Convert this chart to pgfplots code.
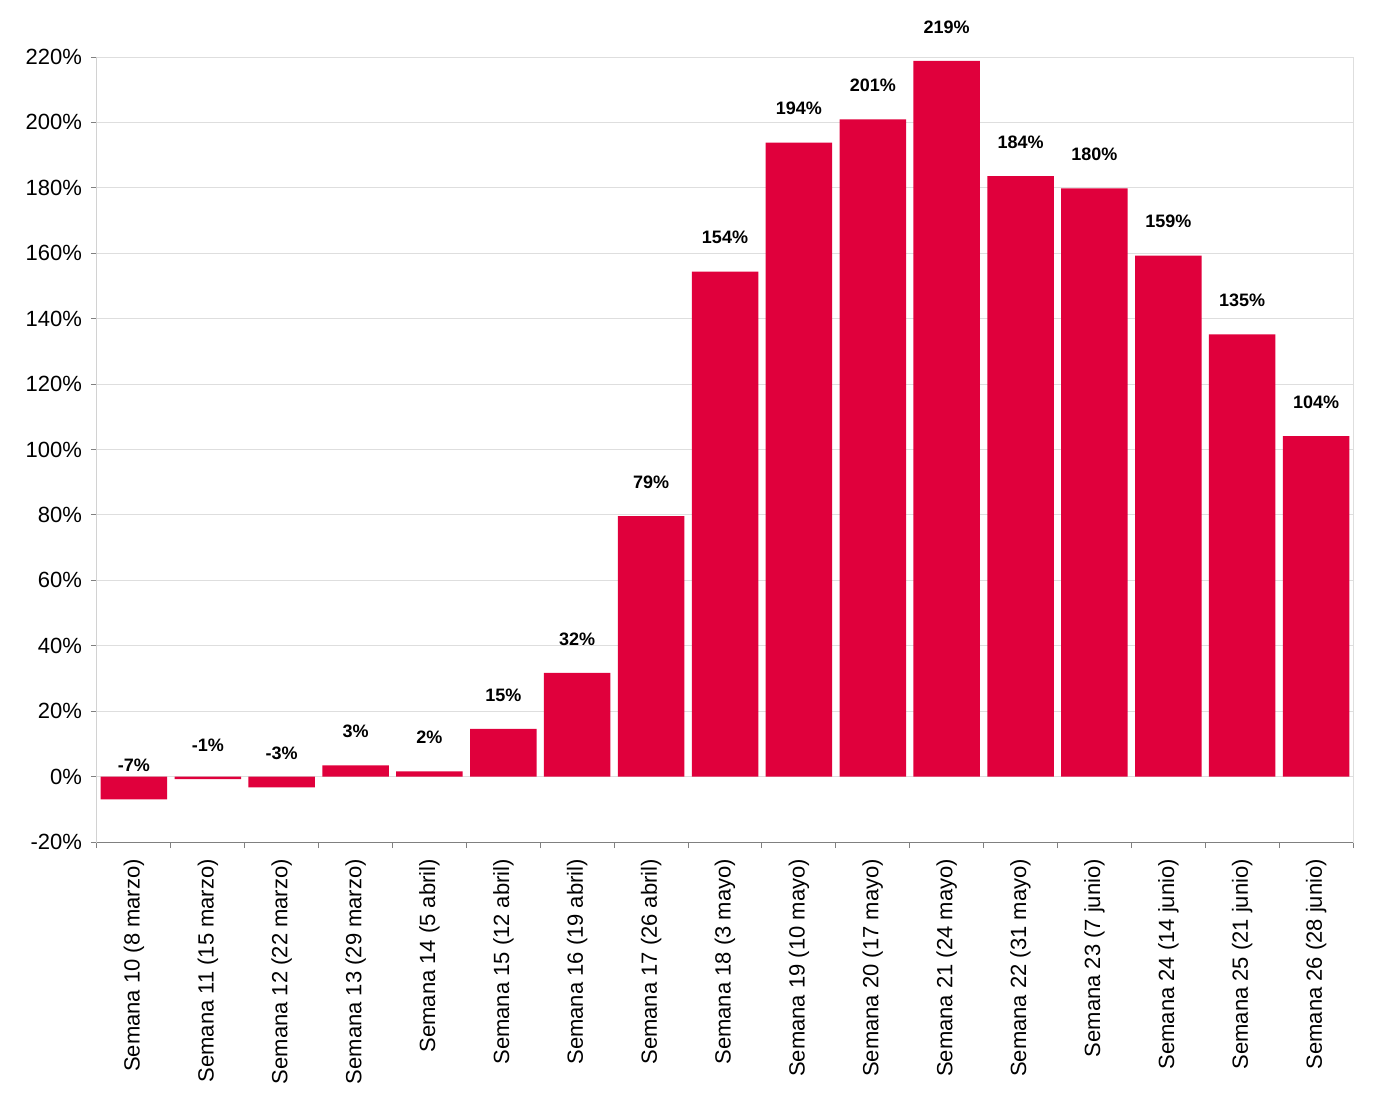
\documentclass[border=0pt]{standalone}
\usepackage{pgfplots}
\pgfplotsset{compat=1.18}
\usepackage{fontspec}
\setmainfont{Liberation Sans}
\usetikzlibrary{calc}
\definecolor{barred}{HTML}{E0003C}

\begin{document}
\begin{tikzpicture}
\begin{axis}[
  width=628pt, height=392.5pt, scale only axis,
  xmin=-0.5, xmax=16.5, ymin=-20, ymax=220,
  ytick={-20,0,...,220},
  yticklabel={\pgfmathprintnumber{\tick}\%},
  /pgf/number format/assume math mode=true,
  ymajorgrids, grid style={draw=black!13, line width=0.5pt},
  axis line style={draw=black!13, line width=0.5pt},
  tick align=outside,
  xtick pos=bottom, ytick pos=left,
  major tick length=3pt, minor tick length=3pt,
  major x tick style={draw=none},
  minor x tick style={draw=gray, line width=0.5pt},
  major y tick style={draw=gray, line width=0.5pt},
  xtick={0,...,16},
  minor xtick={-0.5,0.5,...,16.5},
  xticklabels={Semana 10 (8 marzo),Semana 11 (15 marzo),Semana 12 (22 marzo),Semana 13 (29 marzo),Semana 14 (5 abril),Semana 15 (12 abril),Semana 16 (19 abril),Semana 17 (26 abril),Semana 18 (3 mayo),Semana 19 (10 mayo),Semana 20 (17 mayo),Semana 21 (24 mayo),Semana 22 (31 mayo),Semana 23 (7 junio),Semana 24 (14 junio),Semana 25 (21 junio),Semana 26 (28 junio)},
  x tick label style={rotate=90, anchor=east, font=\fontsize{11pt}{13pt}\selectfont},
  y tick label style={font=\fontsize{11pt}{13pt}\selectfont},
  xticklabel shift=2pt,
  yticklabel shift=1pt,
]
% x, bar height, printed label
\addplot[ybar, bar width=0.9, fill=barred, draw=none,
  point meta=explicit symbolic,
  nodes near coords={\pgfplotspointmeta\%},
  every node near coord/.append style={anchor=center, yshift=17pt, text=black,
    font=\bfseries\fontsize{9pt}{10pt}\selectfont}]
  table[meta=lab] {
  x y lab
  0 -7 -7
  1 -0.8 -1
  2 -3.3 -3
  3 3.4 3
  4 1.6 2
  5 14.6 15
  6 31.7 32
  7 79.6 79
  8 154.4 154
  9 193.8 194
  10 200.9 201
  11 218.8 219
  12 183.6 184
  13 179.8 180
  14 159.3 159
  15 135.2 135
  16 104.1 104
  };
\draw[gray, line width=0.5pt] (rel axis cs:0,1) -- (rel axis cs:0,0) -- (rel axis cs:1,0);
\coordinate (sw) at (rel axis cs:0,0);
\coordinate (ne) at (rel axis cs:1,1);
\end{axis}
\pgfresetboundingbox
\path[use as bounding box] ($(sw)+(-48.5pt,-125.5pt)$) rectangle ($(ne)+(23.5pt,28.5pt)$);
\end{tikzpicture}
\end{document}
